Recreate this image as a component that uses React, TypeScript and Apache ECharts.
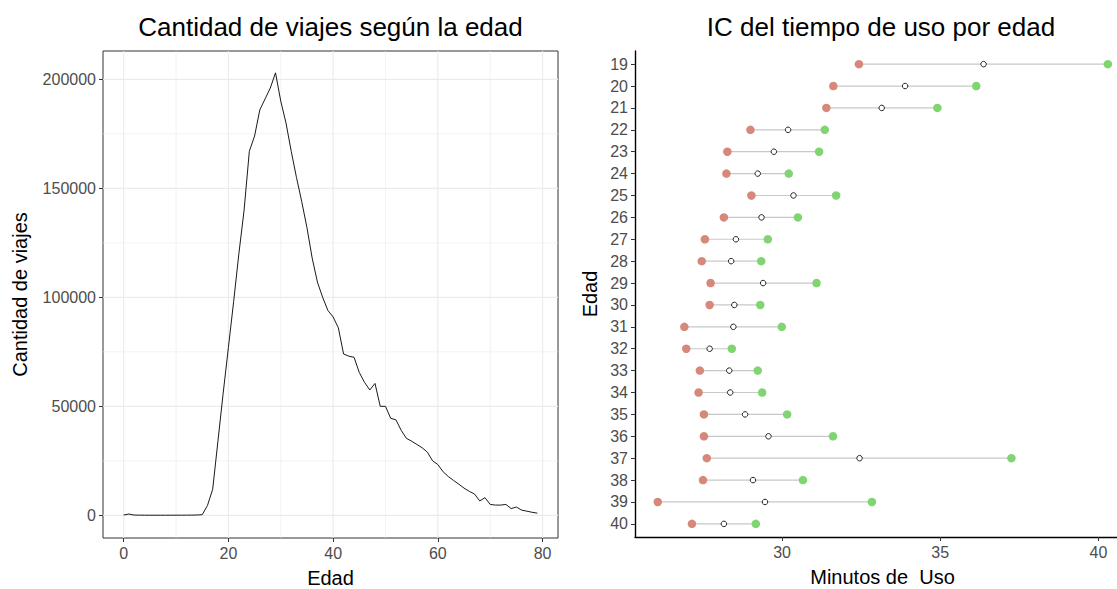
import React, { useEffect, useRef } from "react";
import * as echarts from "echarts";

const FONT = '"Liberation Sans", Arial, sans-serif';

// ---- Left chart: trips by age ----
const ages = [
  0, 1, 2, 3, 4, 5, 6, 7, 8, 9, 10, 11, 12, 13, 14, 15, 16, 17, 18, 19,
  20, 21, 22, 23, 24, 25, 26, 27, 28, 29, 30, 31, 32, 33, 34, 35, 36, 37, 38, 39,
  40, 41, 42, 43, 44, 45, 46, 47, 48, 49, 50, 51, 52, 53, 54, 55, 56, 57, 58, 59,
  60, 61, 62, 63, 64, 65, 66, 67, 68, 69, 70, 71, 72, 73, 74, 75, 76, 77, 78, 79,
];
const trips = [
  150, 600, 120, 80, 60, 50, 50, 50, 50, 60, 60, 70, 80, 100, 150, 300, 4500, 12000, 34000, 56000,
  77000, 98000, 120000, 140000, 167000, 174000, 186000, 191000, 196000, 203000, 190000, 180000, 167000, 155000, 144000, 132000, 118000, 107000, 100000, 94000,
  91000, 86000, 74000, 73000, 72500, 65500, 61000, 57500, 60500, 50000, 50000, 44500, 43800, 39000, 35300, 34000, 32500, 31000, 29000, 25000,
  23300, 20000, 17800, 16000, 14300, 12500, 11000, 9800, 6600, 8100, 5000, 4700, 4700, 5000, 3100, 3800, 2400, 1900, 1400, 1000,
];
const leftXTicks = [0, 20, 40, 60, 80];
const leftXMinor = [10, 30, 50, 70];
const leftYTicks = [0, 50000, 100000, 150000, 200000];
const leftYMinor = [25000, 75000, 125000, 175000];

// ---- Right chart: CI of usage time by age ----
const ciAges = [19, 20, 21, 22, 23, 24, 25, 26, 27, 28, 29, 30, 31, 32, 33, 34, 35, 36, 37, 38, 39, 40];
const ciLower = [32.43, 31.62, 31.4, 29.0, 28.27, 28.24, 29.03, 28.16, 27.56, 27.46, 27.74, 27.71, 26.91, 26.97, 27.4, 27.36, 27.53, 27.53, 27.62, 27.5, 26.07, 27.15];
const ciMean = [36.37, 33.89, 33.15, 30.19, 29.74, 29.23, 30.36, 29.35, 28.54, 28.39, 29.4, 28.49, 28.46, 27.71, 28.33, 28.36, 28.83, 29.57, 32.45, 29.08, 29.46, 28.16];
const ciUpper = [40.3, 36.14, 34.91, 31.35, 31.17, 30.21, 31.71, 30.5, 29.55, 29.34, 31.09, 29.31, 29.99, 28.41, 29.23, 29.37, 30.16, 31.61, 37.25, 30.66, 32.84, 29.17];
const rightXTicks = [30, 35, 40];

const GRID_COLOR = "#EBEBEB";
const TICK_LABEL = "#4D4D4D";

export default function App() {
  const ref = useRef<HTMLDivElement>(null);

  useEffect(() => {
    if (!ref.current) return;
    const chart = echarts.init(ref.current, null, { renderer: "svg" });

    const vGrid = (width: number) => (params: any, api: any) => {
      const cs = params.coordSys;
      const p = api.coord([api.value(0), 0]);
      return {
        type: "line",
        shape: { x1: p[0], y1: cs.y, x2: p[0], y2: cs.y + cs.height },
        style: { stroke: GRID_COLOR, lineWidth: width },
      };
    };
    const hGrid = (width: number) => (params: any, api: any) => {
      const cs = params.coordSys;
      const p = api.coord([0, api.value(1)]);
      return {
        type: "line",
        shape: { x1: cs.x, y1: p[1], x2: cs.x + cs.width, y2: p[1] },
        style: { stroke: GRID_COLOR, lineWidth: width },
      };
    };

    const option: any = {
      animation: false,
      backgroundColor: "#ffffff",
      textStyle: { fontFamily: FONT },
      graphic: [
        {
          type: "text",
          x: 330.5,
          y: 27,
          style: {
            text: "Cantidad de viajes según la edad",
            fontSize: 26,
            fontFamily: FONT,
            fill: "#000000",
            align: "center",
            verticalAlign: "middle",
          },
        },
        {
          type: "text",
          x: 881,
          y: 27,
          style: {
            text: "IC del tiempo de uso por edad",
            fontSize: 26,
            fontFamily: FONT,
            fill: "#000000",
            align: "center",
            verticalAlign: "middle",
          },
        },
      ],
      grid: [
        {
          left: 103,
          top: 51,
          width: 455,
          height: 487,
          show: true,
          borderColor: "#333333",
          borderWidth: 1,
          backgroundColor: "transparent",
          containLabel: false,
          outerBoundsMode: "none",
        },
        { left: 635, top: 51, width: 495, height: 486, containLabel: false, outerBoundsMode: "none" },
      ],
      xAxis: [
        {
          type: "value",
          gridIndex: 0,
          min: -3.95,
          max: 82.95,
          name: "Edad",
          nameLocation: "middle",
          nameGap: 30,
          nameTextStyle: { fontSize: 20, color: "#000000", fontFamily: FONT },
          axisLine: { show: false, onZero: false },
          axisTick: { show: true, length: 4, customValues: leftXTicks, lineStyle: { color: "#333333" } },
          axisLabel: {
            customValues: leftXTicks,
            fontSize: 16,
            color: TICK_LABEL,
            margin: 7,
            fontFamily: FONT,
            formatter: (v: number) => String(v),
          },
          splitLine: { show: false },
        },
        {
          type: "value",
          gridIndex: 1,
          min: 25.35,
          max: 41.0,
          name: "Minutos de  Uso",
          nameLocation: "middle",
          nameGap: 30,
          nameTextStyle: { fontSize: 20, color: "#000000", fontFamily: FONT },
          axisLine: { show: true, onZero: false, lineStyle: { color: "#000000", width: 1.4 } },
          axisTick: { show: true, length: 4, customValues: rightXTicks, lineStyle: { color: "#333333" } },
          axisLabel: {
            customValues: rightXTicks,
            fontSize: 16,
            color: TICK_LABEL,
            margin: 7,
            fontFamily: FONT,
            formatter: (v: number) => String(v),
          },
          splitLine: { show: false },
        },
      ],
      yAxis: [
        {
          type: "value",
          gridIndex: 0,
          min: -10400,
          max: 213000,
          name: "Cantidad de viajes",
          nameLocation: "middle",
          nameGap: 73,
          nameTextStyle: { fontSize: 20, color: "#000000", fontFamily: FONT },
          axisLine: { show: false, onZero: false },
          axisTick: { show: true, length: 4, customValues: leftYTicks, lineStyle: { color: "#333333" } },
          axisLabel: {
            customValues: leftYTicks,
            fontSize: 16,
            color: TICK_LABEL,
            margin: 7,
            fontFamily: FONT,
            formatter: (v: number) => String(v),
          },
          splitLine: { show: false },
        },
        {
          type: "value",
          gridIndex: 1,
          inverse: true,
          min: 18.4,
          max: 40.6,
          name: "Edad",
          nameLocation: "middle",
          nameGap: 35,
          nameTextStyle: { fontSize: 20, color: "#000000", fontFamily: FONT },
          axisLine: { show: true, onZero: false, lineStyle: { color: "#000000", width: 1.4 } },
          axisTick: { show: true, length: 4, customValues: ciAges, lineStyle: { color: "#333333" } },
          axisLabel: {
            customValues: ciAges,
            fontSize: 16,
            color: TICK_LABEL,
            margin: 7,
            fontFamily: FONT,
            formatter: (v: number) => String(v),
          },
          splitLine: { show: false },
        },
      ],
      series: [
        {
          type: "custom",
          xAxisIndex: 0,
          yAxisIndex: 0,
          z: 0,
          silent: true,
          renderItem: vGrid(0.6),
          data: leftXMinor.map((v) => [v, 0]),
        },
        {
          type: "custom",
          xAxisIndex: 0,
          yAxisIndex: 0,
          z: 0,
          silent: true,
          renderItem: hGrid(0.6),
          data: leftYMinor.map((v) => [0, v]),
        },
        {
          type: "custom",
          xAxisIndex: 0,
          yAxisIndex: 0,
          z: 0,
          silent: true,
          renderItem: vGrid(1.1),
          data: leftXTicks.map((v) => [v, 0]),
        },
        {
          type: "custom",
          xAxisIndex: 0,
          yAxisIndex: 0,
          z: 0,
          silent: true,
          renderItem: hGrid(1.1),
          data: leftYTicks.map((v) => [0, v]),
        },
        {
          type: "line",
          xAxisIndex: 0,
          yAxisIndex: 0,
          z: 5,
          symbol: "none",
          lineStyle: { color: "#1a1a1a", width: 1 },
          data: ages.map((a, i) => [a, trips[i]]),
        },
        {
          type: "custom",
          xAxisIndex: 1,
          yAxisIndex: 1,
          z: 1,
          silent: true,
          encode: { x: [0, 1], y: 2 },
          renderItem: (params: any, api: any) => {
            const lo = api.coord([api.value(0), api.value(2)]);
            const hi = api.coord([api.value(1), api.value(2)]);
            return {
              type: "line",
              shape: { x1: lo[0], y1: lo[1], x2: hi[0], y2: hi[1] },
              style: { stroke: "#C8C8C8", lineWidth: 1.2 },
            };
          },
          data: ciAges.map((a, i) => [ciLower[i], ciUpper[i], a]),
        },
        {
          type: "scatter",
          xAxisIndex: 1,
          yAxisIndex: 1,
          z: 3,
          symbol: "circle",
          symbolSize: 8.5,
          itemStyle: { color: "#D6887A", opacity: 1 },
          data: ciAges.map((a, i) => [ciLower[i], a]),
        },
        {
          type: "scatter",
          xAxisIndex: 1,
          yAxisIndex: 1,
          z: 3,
          symbol: "circle",
          symbolSize: 8.5,
          itemStyle: { color: "#80D472", opacity: 1 },
          data: ciAges.map((a, i) => [ciUpper[i], a]),
        },
        {
          type: "scatter",
          xAxisIndex: 1,
          yAxisIndex: 1,
          z: 4,
          symbol: "circle",
          symbolSize: 5.5,
          itemStyle: { color: "#ffffff", borderColor: "#222222", borderWidth: 1, opacity: 1 },
          data: ciAges.map((a, i) => [ciMean[i], a]),
        },
      ],
    };

    chart.setOption(option);
    return () => {
      chart.dispose();
    };
  }, []);

  return (
    <div
      ref={ref}
      style={{ position: "absolute", left: 0, top: 0, width: 1117, height: 589, background: "#ffffff" }}
    />
  );
}
